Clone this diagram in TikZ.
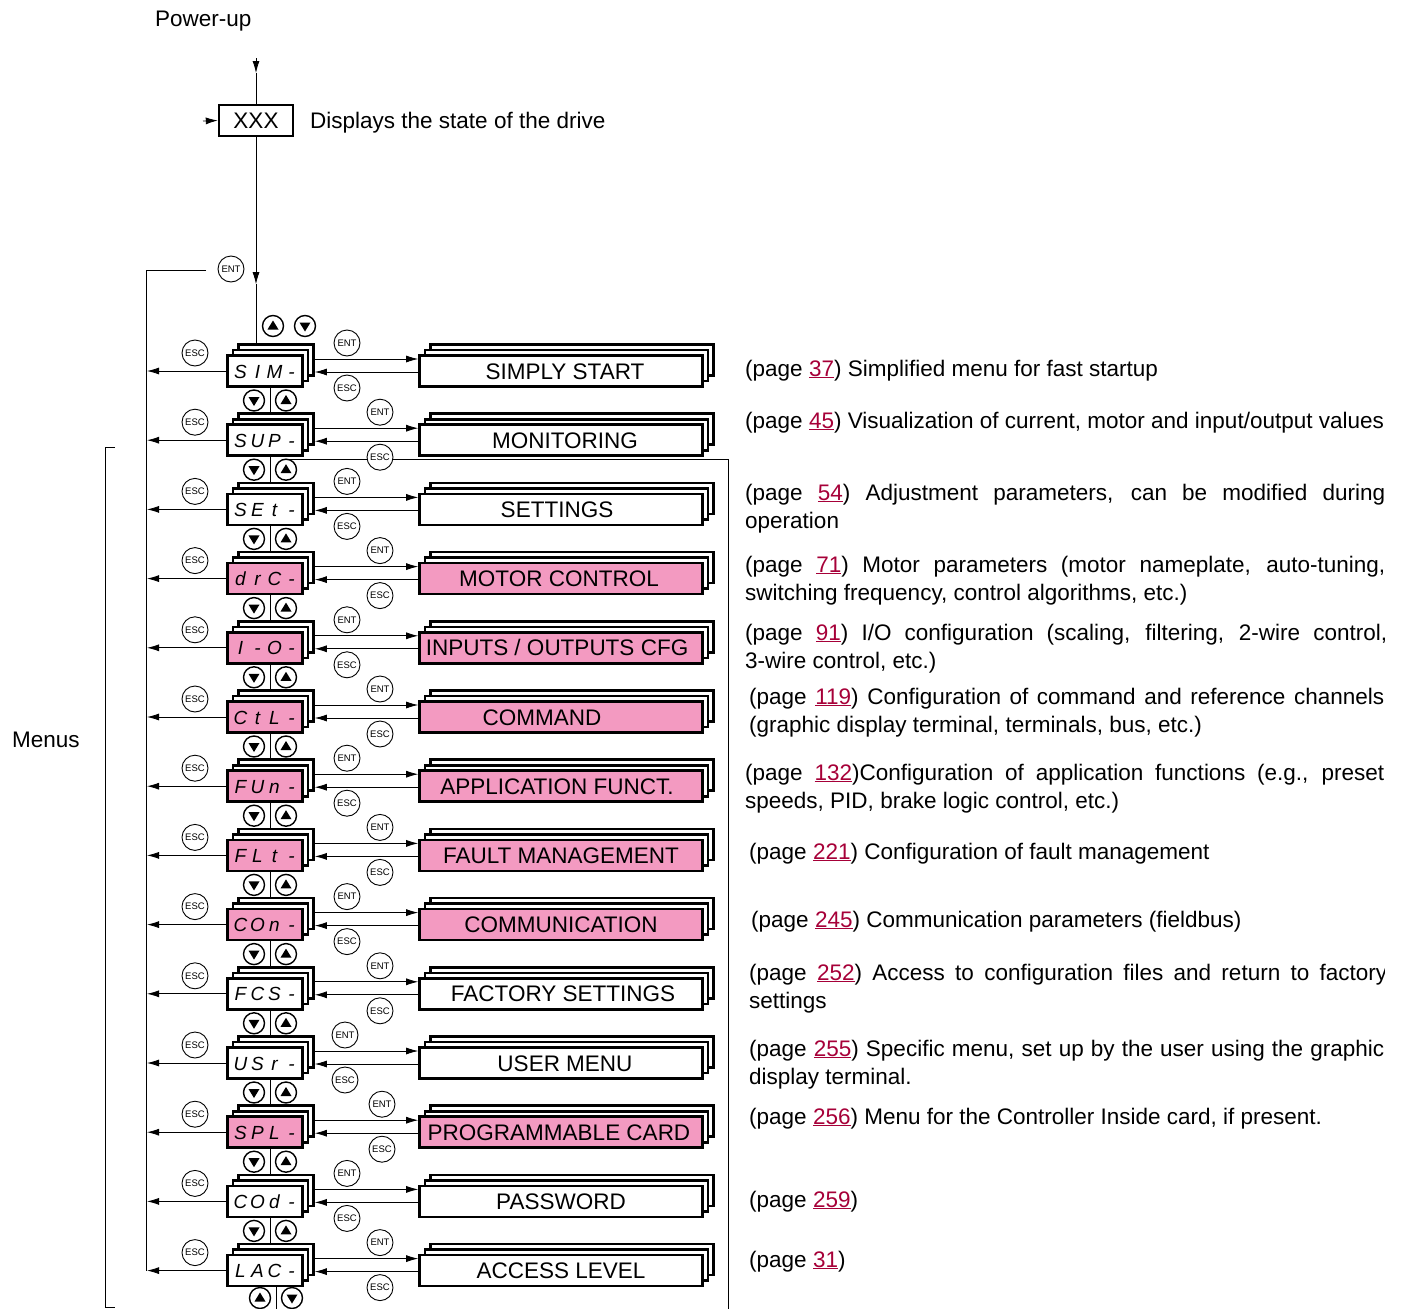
\documentclass[tikz,border=0pt]{standalone}
\usepackage{fontspec}
\setmainfont{Liberation Sans}
\usetikzlibrary{arrows.meta,calc,backgrounds}
\definecolor{pinkf}{RGB}{243,154,193}
\definecolor{linkc}{RGB}{166,0,56}
\newcommand\pg[1]{\textcolor{linkc}{\underline{#1}}}
\def\cdisp#1#2#3#4{\makebox[17pt]{#1}\makebox[17pt]{#2}\makebox[17pt]{#3}\makebox[17pt]{#4}}
\newcommand\rtxt[2]{\parbox[t]{#1}{\fontsize{22.5}{28}\selectfont #2}}
\begin{document}
\begin{tikzpicture}[x=1pt,y=-1pt,
  ln/.style={line width=0.8pt},
  arr/.style={ln,-{Latex[length=12pt,width=7pt]}},
  codebox/.style={draw,line width=2.6pt,minimum width=75pt,minimum height=31pt,inner sep=0pt},
  menubox/.style={draw,line width=2.6pt,minimum width=283pt,minimum height=31pt,inner sep=0pt},
  btn/.style={circle,draw,fill=white,line width=0.9pt,minimum size=26pt,inner sep=0pt,font=\fontsize{9.5}{9.5}\selectfont},
  nav/.style={circle,draw,fill=white,line width=1.4pt,minimum size=21pt,inner sep=0pt},
  lbl/.style={inner sep=0pt,font=\fontsize{22.5}{27}\selectfont},
  desc/.style={inner sep=0pt,anchor=base west,font=\fontsize{22.5}{28}\selectfont},
]
\newcommand\upb[2]{\node[nav] (#1) at (#2) {};
  \fill ([shift={(0,-5.5)}]#1.center) -- ++(5.5,9) -- ++(-11,0) -- cycle;}
\newcommand\dnb[2]{\node[nav] (#1) at (#2) {};
  \fill ([shift={(0,5.5)}]#1.center) -- ++(5.5,-9) -- ++(-11,0) -- cycle;}
\useasboundingbox (0,0) rectangle (1401,1309);
\coordinate (lx) at (147,0);
\coordinate (rt) at (728,0);
\coordinate (bot) at (0,1309);

% top part
\node[lbl,anchor=base west] (pu) at (155,27) {Power-up};
\node[draw,line width=2.4pt,minimum width=74pt,minimum height=31pt,inner sep=0pt,font=\fontsize{22.5}{27}\selectfont] (xxx) at (256,120.5) {XXX};
\node[lbl,anchor=base west] (disp) at (310,128) {Displays the state of the drive};
\coordinate (pt) at (256,58);
\draw[arr] (pt) -- ++(0,15) coordinate (pa);
\draw[ln] (pa) -- (xxx.north);
\coordinate (xin) at (203,121);
\draw[arr] (xin) -- (xxx.west);
\node[btn] (ent0) at (231,269) {ENT};
\draw[arr] (xxx.south) -- ++(0,147) coordinate (pb);
\coordinate (lt) at (206,270);
\coordinate (lc) at (146,270);

\upb{tu}{273,326}
\dnb{td}{305,326}

% Menus bracket
\coordinate (b1) at (115,447);
\coordinate (b2) at (115,1307);
\draw[ln] (b1) -- (105,447) -- (105,1307) -- (b2);
\node[lbl,anchor=base west] (menus) at (12,747) {Menus};

% rows
\foreach \cd/\lab/\col/\ex/\lx [count=\n from 0] in {
 SIM-/SIMPLY START/white/347/565,
 SUP-/MONITORING/white/380/565,
 SEt-/SETTINGS/white/347/557,
 drC-/MOTOR CONTROL/pinkf/380/559,
 I-O-/{INPUTS / OUTPUTS CFG}/pinkf/347/557,
 CtL-/COMMAND/pinkf/380/542,
 FUn-/APPLICATION FUNCT./pinkf/347/557,
 FLt-/FAULT MANAGEMENT/pinkf/380/561,
 COn-/COMMUNICATION/pinkf/347/561,
 FCS-/FACTORY SETTINGS/white/380/563,
 USr-/USER MENU/white/345/565,
 SPL-/PROGRAMMABLE CARD/pinkf/382/559,
 COd-/PASSWORD/white/347/561,
 LAC-/ACCESS LEVEL/white/380/561}{
  \pgfmathsetmacro\Y{371+69.2*\n}
  \node[codebox,fill=white] (cr\n) at (276,\Y-11) {};
  \node[codebox,fill=white] (cm\n) at (270.5,\Y-5.5) {};
  \node[codebox,fill=\col] (c\n) at (265,\Y) {};
  \node[anchor=base,inner sep=0pt,font=\fontsize{19}{19}\selectfont\itshape] (ct\n) at (266,\Y+7) {\expandafter\cdisp\cd};
  \node[menubox,fill=white] (mr\n) at (572,\Y-11) {};
  \node[menubox,fill=white] (mm\n) at (566.5,\Y-5.5) {};
  \node[menubox,fill=\col] (m\n) at (561,\Y) {};
  \node[lbl,anchor=base] (ml\n) at (\lx,\Y+8) {\lab};
  \node[btn] (en\n) at (\ex,\Y-28) {ENT};
  \node[btn] (es\n) at (\ex,\Y+17) {ESC};
  \node[btn] (le\n) at (195,\Y-18) {ESC};
  \draw[arr] (cr\n.east) ++(0,-1) coordinate (a\n) -- (a\n -| m\n.west);
  \draw[arr] (m\n.west) ++(0,1) coordinate (b\n) -- (b\n -| cr\n.east);
  \draw[arr] (c\n.west) -- (c\n.west -| lx);
}
\foreach \n [evaluate=\n as \m using int(\n+1)] in {0,...,12}{
  \pgfmathsetmacro\Y{371+69.2*\n}
  \dnb{d\n}{254,\Y+29.5}
  \upb{u\n}{286,\Y+29.5}
  \draw[ln] (c\n.south -| cm\n.north) -- (cm\m.north |- cr\m.north);
}
\upb{bu}{260,1298}
\dnb{bd}{292,1298}

\draw[ln] (pb) -- (xxx.south |- cr0.north);
\draw[ln] (lt) -- (lc) -- (lc |- c13.west);
\draw[ln] (c13.south -| cr13.north) -- (cr13.north |- bot);
\begin{pgfonlayer}{background}
\draw[ln] (u1.70) -- (u1.70 -| rt) -- (rt |- bot);
\end{pgfonlayer}

% descriptions
\begin{scope}
\clip (0,0) rectangle (1384,1309);
\node[desc] (t0) at (745,376) {(page \pg{37}) Simplified menu for fast startup};
\node[desc] (t1) at (745,428) {(page \pg{45}) Visualization of current, motor and input/output values};
\node[desc] (t2) at (745,500) {\rtxt{640pt}{(page \pg{54}) Adjustment parameters, can be modified during\linebreak operation}};
\node[desc] (t3) at (745,572) {\rtxt{640pt}{(page \pg{71}) Motor parameters (motor nameplate, auto-tuning,\linebreak switching frequency, control algorithms, etc.)}};
\node[desc] (t4) at (745,640) {\rtxt{642pt}{(page \pg{91}) I/O configuration (scaling, filtering, 2-wire control,\linebreak 3-wire control, etc.)}};
\node[desc] (t5) at (749,704) {\rtxt{635pt}{(page \pg{119}) Configuration of command and reference channels\linebreak (graphic display terminal, terminals, bus, etc.)}};
\node[desc] (t6) at (745,780) {\rtxt{639pt}{(page \pg{132})Configuration of application functions (e.g., preset\linebreak speeds, PID, brake logic control, etc.)}};
\node[desc] (t7) at (749,859) {(page \pg{221}) Configuration of fault management};
\node[desc] (t8) at (751,927) {(page \pg{245}) Communication parameters (fieldbus)};
\node[desc] (t9) at (749,980) {\rtxt{638pt}{(page \pg{252}) Access to configuration files and return to factory\linebreak settings}};
\node[desc] (t10) at (749,1056) {\rtxt{635pt}{(page \pg{255}) Specific menu, set up by the user using the graphic\linebreak display terminal.}};
\node[desc] (t11) at (749,1124) {(page \pg{256}) Menu for the Controller Inside card, if present.};
\node[desc] (t12) at (749,1207) {(page \pg{259})};
\node[desc] (t13) at (749,1267) {(page \pg{31})};
\end{scope}
\end{tikzpicture}
\end{document}
